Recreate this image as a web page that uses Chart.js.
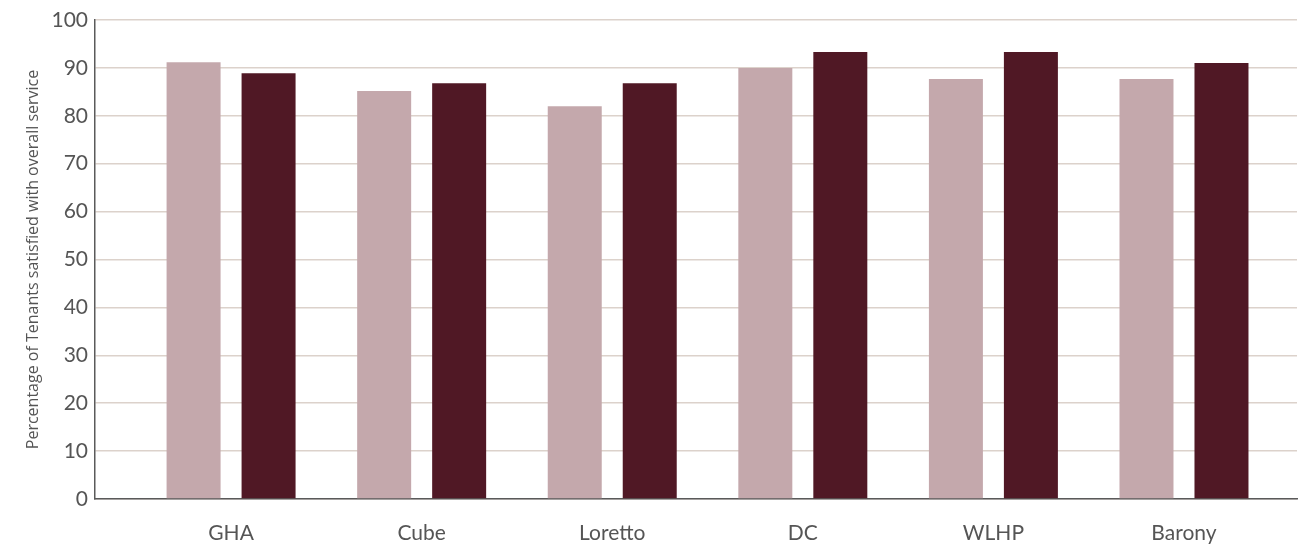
<!DOCTYPE html>
<html>
<head>
<meta charset="utf-8">
<script src="https://cdn.jsdelivr.net/npm/chart.js@4/dist/chart.umd.min.js"></script>
<style>
    html, body { margin: 0; padding: 0; background: #ffffff; }
    #wrap { width: 1316px; height: 547px; }
</style>
</head>
<body>
<div id="wrap"><canvas id="satChart"></canvas></div>
<script>
const categories = ['GHA', 'Cube', 'Loretto', 'DC', 'WLHP', 'Barony'];
const seriesLight = [91.2, 85.2, 82.0, 90.0, 87.7, 87.7];
const seriesDark = [88.9, 86.8, 86.8, 93.3, 93.3, 91.0];
const yTicks = [0, 10, 20, 30, 40, 50, 60, 70, 80, 90, 100];

const colors = {
    light: '#c4a8ac',
    dark: '#501825',
    grid: '#dcd2cb',
    axis: '#5a5a5a',
    text: '#555555'
};

const fontFamily = 'Lato, "Open Sans", sans-serif';

const toPoints = values => values.map((v, i) => ({ x: i, y: v }));

const ctx = document.getElementById('satChart').getContext('2d');
new Chart(ctx, {
    type: 'bar',
    data: {
        datasets: [{
            data: toPoints(seriesLight),
            backgroundColor: colors.light,
            categoryPercentage: 0.787,
            barPercentage: 0.72
        }, {
            data: toPoints(seriesDark),
            backgroundColor: colors.dark,
            categoryPercentage: 0.787,
            barPercentage: 0.72
        }]
    },
    options: {
        responsive: true,
        maintainAspectRatio: false,
        animation: false,
        layout: { padding: { top: 20, right: 19, left: 0, bottom: 0 } },
        plugins: {
            legend: { display: false },
            tooltip: { enabled: false }
        },
        scales: {
            x: {
                type: 'linear',
                offset: false,
                min: -0.714,
                max: 5.593,
                afterBuildTicks: scale => {
                    scale.ticks = categories.map((_, i) => ({ value: i }));
                },
                afterFit: scale => { scale.height = 48; },
                grid: { display: false, drawTicks: false },
                border: { color: colors.axis, width: 1.5 },
                ticks: {
                    padding: 22,
                    color: colors.text,
                    font: { family: fontFamily, size: 21 },
                    maxRotation: 0,
                    callback: value => categories[value] ?? ''
                }
            },
            y: {
                min: 0,
                max: 100,
                afterBuildTicks: scale => {
                    scale.ticks = yTicks.map(v => ({ value: v }));
                },
                afterFit: scale => { scale.width = 95; },
                grid: { color: colors.grid, lineWidth: 1.5, drawTicks: false },
                border: { color: colors.axis, width: 1.5 },
                ticks: {
                    padding: 7,
                    color: colors.text,
                    font: { family: fontFamily, size: 21 }
                },
                title: {
                    display: true,
                    text: 'Percentage of Tenants satisfied with overall service',
                    color: colors.text,
                    font: { family: '"Open Sans", sans-serif', size: 16 },
                    padding: { top: 24, bottom: 0 }
                }
            }
        }
    }
});
</script>
</body>
</html>
